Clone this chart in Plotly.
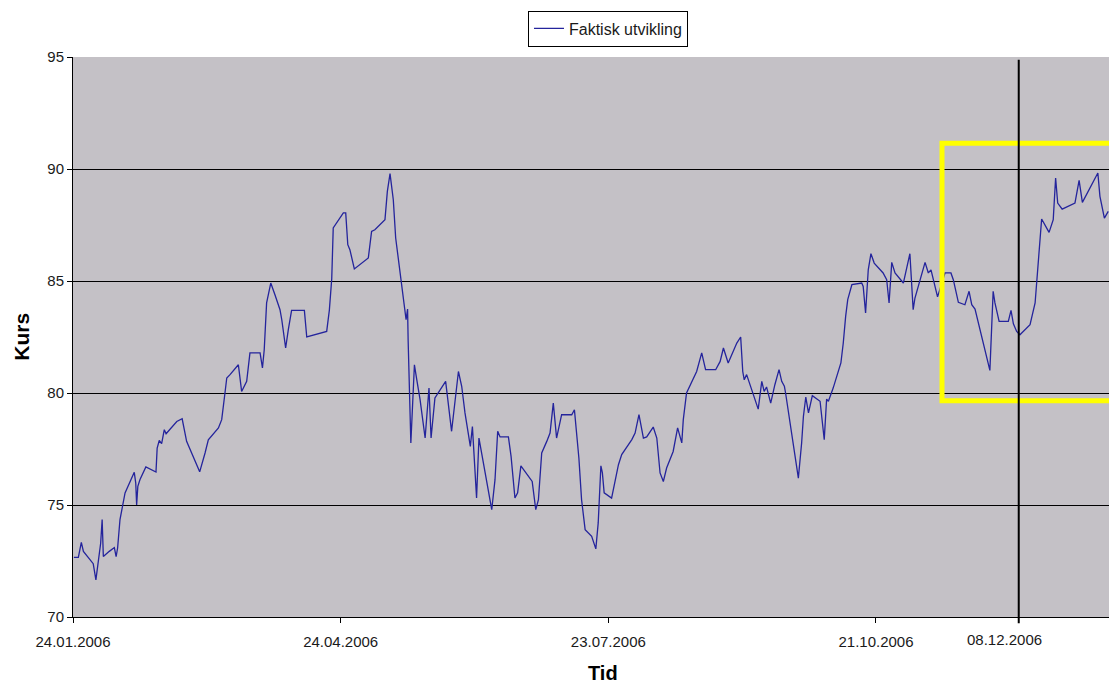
import pandas as pd
import plotly.graph_objects as go

# Trading series: days after 24.01.2006 and closing price (Kurs)
dager = [
    0.3, 1.8, 2.8, 3.5, 5.1, 6.8, 7.7, 8.2, 9.3, 9.8, 10.2, 12.2, 13.9, 14.5, 15.0,
    15.8, 16.7, 17.5, 20.6, 21.1, 21.4, 21.8, 22.5, 24.5, 27.9, 28.3, 29.0, 29.8,
    30.7, 31.3, 34.9, 36.7, 38.2, 42.6, 44.4, 45.5, 48.9, 50.0, 51.1, 51.7, 52.8,
    55.6, 56.7, 58.4, 59.5, 62.9, 63.7, 64.3, 65.1, 66.5, 67.9, 69.6, 70.2, 71.5,
    72.4, 73.5, 77.8, 78.6, 85.3, 86.2, 87.0, 87.5, 90.9, 91.7, 92.4, 93.1, 94.6,
    99.3, 100.4, 101.5, 104.9, 105.7, 106.6, 107.7, 108.5, 110.3, 111.6, 112.0,
    112.5, 112.7, 113.6, 114.8, 115.6, 116.7, 118.4, 119.7, 120.4, 121.7, 125.3,
    126.0, 127.3, 129.6, 130.7, 131.8, 133.6, 134.3, 135.7, 136.5, 137.2, 140.8,
    141.9, 142.8, 143.6, 146.4, 147.3, 148.6, 149.5, 150.6, 154.4, 155.6, 156.5,
    157.6, 159.3, 160.4, 161.5, 162.6, 164.3, 167.7, 168.6, 169.4, 170.1, 171.0,
    172.2, 174.4, 175.8, 176.6, 177.5, 178.0, 178.6, 181.1, 182.2, 183.4, 184.5,
    187.9, 189.0, 190.3, 191.8, 192.9, 195.1, 196.3, 197.4, 198.5, 199.6, 201.8,
    203.3, 204.1, 204.7, 205.2, 206.3, 209.7, 211.4, 212.7, 216.1, 217.6, 218.7,
    220.3, 223.2, 224.5, 225.2, 225.7, 226.5, 228.2, 230.4, 231.6, 232.4, 233.2,
    234.6, 236.0, 237.4, 238.3, 239.2, 239.6, 243.9, 245.0, 245.6, 246.4, 247.3,
    248.6, 251.2, 252.6, 253.4, 254.0, 255.6, 258.2, 259.0, 259.8, 260.5, 261.9,
    265.2, 265.7, 266.5, 267.4, 268.3, 269.4, 272.4, 273.6, 274.4, 275.3, 276.4,
    279.2, 281.4, 282.5, 283.1, 286.5, 287.6, 288.5, 290.7, 293.2, 295.2, 296.0,
    297.7, 299.9, 301.3, 302.2, 303.3, 308.3, 309.4, 310.0, 311.4, 314.5, 315.4,
    316.2, 317.3, 318.4, 321.8, 323.5, 324.6, 325.7, 328.2, 329.6, 330.4, 331.1,
    332.6, 336.9, 338.3, 339.4, 344.6, 345.3, 346.8, 348.1,
]
kurs = [
    72.66, 72.66, 73.33, 72.93, 72.66, 72.38, 71.66, 72.26, 73.29, 74.35, 72.70, 72.93, 73.10, 72.70, 73.08,
    74.35, 74.94, 75.54, 76.46, 75.98, 75.00, 75.83, 76.13, 76.70, 76.47, 77.54, 77.88, 77.74,
    78.36, 78.18, 78.73, 78.85, 77.84, 76.48, 77.32, 77.91, 78.44, 78.81, 80.00, 80.67, 80.82,
    81.26, 80.07, 80.52, 81.79, 81.79, 81.12, 81.93, 84.02, 84.91, 84.39, 83.72, 83.27, 82.01,
    82.83, 83.69, 83.69, 82.50, 82.75, 83.70, 85.10, 87.37, 88.04, 88.04, 86.62, 86.40, 85.54,
    86.03, 87.21, 87.29, 87.74, 89.00, 89.79, 88.63, 86.92, 84.98, 83.72, 83.27,
    83.75, 82.30, 77.77, 81.26, 80.59, 79.70, 77.99, 80.22, 77.99, 79.78, 80.52,
    79.78, 78.29, 80.96, 80.30, 79.11, 77.62, 78.50, 75.31, 77.99, 77.47, 74.79,
    76.13, 78.29, 78.04, 78.04, 77.17, 75.31, 75.54, 76.75, 76.05, 74.79, 75.24,
    77.32, 77.84, 78.21, 79.55, 77.99, 79.03, 79.03, 79.25, 78.06, 77.10, 75.24,
    73.90, 73.60, 73.04, 74.20, 76.75, 76.43, 75.54, 75.31, 75.98, 76.80, 77.25,
    77.92, 78.21, 79.03, 77.99, 78.04, 78.48, 77.99, 76.43, 76.05, 76.65, 77.39,
    78.44, 78.06, 77.77, 78.80, 80.00, 80.96, 81.79, 81.04, 81.04, 81.41, 82.01,
    81.34, 82.23, 82.50, 80.96, 80.59, 80.82, 80.15, 79.28, 80.52, 80.07, 80.27,
    79.55, 80.37, 81.04, 80.52, 80.30, 80.00, 76.20, 77.77, 78.96, 79.82, 79.11,
    79.88, 79.63, 77.92, 79.73, 79.63, 80.22, 81.34, 82.23, 83.42, 84.17, 84.84,
    84.91, 84.76, 83.57, 85.50, 86.22, 85.80, 85.36, 85.06, 84.02, 85.83, 85.36,
    84.91, 86.22, 83.72, 84.24, 85.83, 85.36, 85.50, 84.29, 85.36, 85.36, 85.06,
    84.05, 83.94, 84.54, 83.94, 83.75, 81.01, 84.54, 84.02, 83.20, 83.20, 83.69,
    83.09, 82.75, 82.60, 83.05, 84.02, 85.95, 87.77, 87.17, 87.74, 89.60, 88.48,
    88.21, 88.48, 89.49, 88.51, 89.82, 88.78, 87.81, 88.11,
]

serie_navn = "Faktisk utvikling"
start = pd.Timestamp("2006-01-24")
markert_dato = pd.Timestamp("2006-12-08")
markert_tekst = "08.12.2006"

# highlighted window (yellow frame)
ramme_fra = start + pd.Timedelta(days=292.2)
ramme_til = start + pd.Timedelta(days=380)
ramme_y = (79.65, 91.15)

x_slutt = start + pd.Timedelta(days=348.35)
datoer = [start + pd.Timedelta(days=d) for d in dager]

FONT = "Liberation Sans, Arial, sans-serif"
TXT = "#1a1a1a"

fig = go.Figure()
fig.add_trace(go.Scatter(
    x=datoer, y=kurs, mode="lines", name=serie_navn,
    line=dict(color="#24249c", width=1.3),
))

fig.update_layout(
    width=1109, height=686, autosize=False,
    margin=dict(l=73, r=0, t=57, b=69),
    paper_bgcolor="white",
    plot_bgcolor="#C4C1C6",
    font=dict(family=FONT, size=15, color=TXT),
    showlegend=True,
    legend=dict(
        x=0.5164, xanchor="center", y=1.083, yanchor="top",
        orientation="h",
        bgcolor="white", bordercolor="black", borderwidth=1,
        font=dict(family=FONT, size=16, color=TXT),
    ),
    xaxis=dict(
        type="date",
        range=[start, x_slutt],
        tick0=start, dtick=90 * 86400000,
        tickformat="%d.%m.%Y",
        ticks="outside", ticklen=5, tickcolor="black",
        showline=True, linecolor="black", linewidth=1,
        showgrid=False, zeroline=False,
        ticklabelstandoff=6,
        tickfont=dict(family=FONT, size=15, color=TXT),
    ),
    yaxis=dict(
        range=[70, 95], dtick=5, tick0=70,
        ticks="outside", ticklen=5, tickcolor="black",
        showline=True, linecolor="black", linewidth=1,
        showgrid=True, gridcolor="black", gridwidth=1,
        zeroline=False,
        tickfont=dict(family=FONT, size=15, color=TXT),
    ),
)

# yellow frame around the last part of the period
fig.add_shape(
    type="rect", xref="x", yref="y",
    x0=ramme_fra, x1=ramme_til, y0=ramme_y[0], y1=ramme_y[1],
    line=dict(color="#FFFF00", width=5), fillcolor="rgba(0,0,0,0)",
    layer="above",
)

# vertical marker for the selected date
fig.add_shape(
    type="line", xref="x", yref="paper",
    x0=markert_dato, x1=markert_dato, y0=-0.011, y1=0.995,
    line=dict(color="black", width=2), layer="above",
)

fig.add_annotation(
    x=markert_dato, xref="x", y=-0.041, yref="paper",
    text=markert_tekst, showarrow=False, xshift=-14,
    xanchor="center", yanchor="middle",
    font=dict(family=FONT, size=15, color=TXT),
)

# axis titles
fig.add_annotation(
    x=-0.0505, xref="paper", y=0.5, yref="paper",
    text="<b>Kurs</b>", textangle=-90, showarrow=False,
    xanchor="center", yanchor="middle",
    font=dict(family=FONT, size=21, color="black"),
)
fig.add_annotation(
    x=0.5116, xref="paper", y=-0.100, yref="paper",
    text="<b>Tid</b>", showarrow=False,
    xanchor="center", yanchor="middle",
    font=dict(family=FONT, size=20, color="black"),
)

fig.write_html("out.html")
